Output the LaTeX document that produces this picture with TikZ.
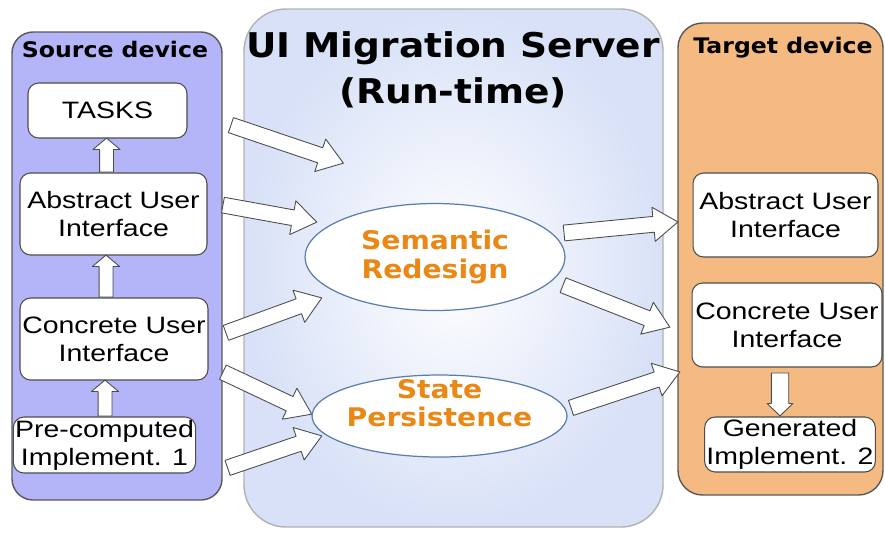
\documentclass[tikz,border=0pt]{standalone}
\usepackage{fontspec}
\setmainfont{Liberation Sans}
\newfontfamily\boxfont{Liberation Sans}[FakeStretch=1.2]
\newfontfamily\labfont{DejaVu Sans Bold}[FakeStretch=1.1]
\usepackage{tikz}
\usetikzlibrary{positioning,calc,shapes.geometric,shapes.arrows}

\definecolor{srcblue}{RGB}{180,180,248}
\definecolor{tgtorange}{RGB}{245,185,130}
\definecolor{srvblue}{RGB}{216,225,247}
\definecolor{labelorange}{RGB}{235,135,20}
\definecolor{ellblue}{RGB}{90,125,175}

% hollow block arrow from #2 to #3
\newcommand{\blockarrow}[3][]{%
  \path let \p1=(#2), \p2=(#3),
    \n1={atan2(\y2-\y1,\x2-\x1)},
    \n2={veclen(\x2-\x1,\y2-\y1)} in
    node[fatarrow, minimum height=\n2, rotate=\n1, anchor=tail, #1] at (\p1) {};}

\begin{document}
\begin{tikzpicture}[
    x=0.02cm,
    y=-0.02cm,
    line join=round
]

\tikzstyle{panel}=[
    draw=gray!70!black,
    line width=0.8pt
]
\tikzstyle{box}=[
    draw=gray!60!black,
    fill=white,
    rounded corners=6pt,
    line width=0.6pt,
    align=center,
    inner sep=1pt,
    font=\boxfont\fontsize{13.5}{16}\selectfont
]
\tikzstyle{stage}=[
    ellipse,
    draw=ellblue,
    fill=white,
    line width=0.7pt,
    inner sep=0pt
]
\tikzstyle{stagetext}=[
    align=center,
    text=labelorange,
    font=\labfont\fontsize{14.6}{16}\selectfont
]
\tikzstyle{fatarrow}=[
    single arrow,
    draw=gray!60!black,
    fill=white,
    line width=0.5pt,
    inner xsep=0pt,
    inner ysep=4.25pt,
    minimum width=0pt,
    single arrow head extend=5.25pt,
    single arrow tip angle=70
]
\tikzstyle{uparrow}=[
    inner ysep=3.7pt,
    single arrow head extend=3.8pt,
    single arrow tip angle=100
]
\tikzstyle{downarrow}=[
    inner ysep=4.7pt,
    single arrow head extend=2.4pt,
    single arrow tip angle=92
]

\useasboundingbox (0,0) rectangle (885,532);

% the three areas
\draw[panel, fill=srcblue, rounded corners=12pt] (12,32) rectangle (222,500);
\shade[inner color=white, outer color=srvblue, rounded corners=24pt] (244,9) rectangle (663,527);
\draw[panel, draw=gray!60, rounded corners=24pt] (244,9) rectangle (663,527);
\draw[panel, fill=tgtorange, rounded corners=14pt] (678,23) rectangle (883,495);

\node[font=\labfont\fontsize{12.2}{14}\selectfont] (srcLabel) at (115,50) {Source device};
\node[font=\labfont\fontsize{12.2}{14}\selectfont] (tgtLabel) at (783,48) {Target device};
\node[align=center, font=\labfont\fontsize{19.4}{26}\selectfont] (title) at (453,70) {UI Migration Server\\(Run-time)};

% source device
\node[box, minimum width=3.18cm, minimum height=1.1cm] (tasks) at (107.5,110.5) {TASKS};
\node[box, minimum width=3.74cm, minimum height=1.64cm] (absS) at (113.5,214) {Abstract User\\Interface};
\node[box, minimum width=3.76cm, minimum height=1.64cm] (conS) at (114,339) {Concrete User\\Interface};
\node[box, minimum width=3.46cm, minimum height=1.12cm] (preS) at (104.5,445) {Pre-computed\\Implement. 1};

% server
\node[stage, minimum width=5.2cm, minimum height=2.14cm] (sem) at (435,257) {};
\node[stagetext] (semText) at (sem.center) {Semantic\\Redesign};
\node[stage, minimum width=5.1cm, minimum height=1.64cm] (state) at (439.5,416) {};
\node[stagetext] (stateText) at ([shift={(0,-13)}]state.center) {State\\Persistence};
\coordinate (semFree) at ([shift={(-92,-94)}]sem.center);

% target device
\node[box, minimum width=3.7cm, minimum height=1.68cm] (absT) at (785.5,215) {Abstract User\\Interface};
\node[box, minimum width=3.8cm, minimum height=1.68cm] (conT) at (787,325) {Concrete User\\Interface};
\node[box, minimum width=3.32cm, minimum height=1.1cm] (genT) at (790,444.5) {Generated\\Implement. 2};

% arrows
\blockarrow[uparrow]{[shift={(-7,0)}]absS.north}{[shift={(-1,0)}]tasks.south}
\blockarrow[uparrow]{[shift={(-8,0)}]conS.north}{[shift={(-7.5,0)}]absS.south}
\blockarrow[uparrow]{[shift={(0.5,0)}]preS.north}{[shift={(-9,0)}]conS.south}
\blockarrow[downarrow]{[shift={(-7,5)}]conT.south}{[shift={(-10,-1)}]genT.north}

\blockarrow{[shift={(43,14.5)}]tasks.east}{semFree}
\blockarrow{[shift={(15,-9)}]absS.east}{[shift={(12,-35)}]sem.west}
\blockarrow{[shift={(17,-6)}]conS.east}{[shift={(17,41)}]sem.west}
\blockarrow{[shift={(14,33)}]conS.east}{[shift={(0,-2)}]state.west}
\blockarrow{[shift={(31,23)}]preS.east}{[shift={(10,20)}]state.west}
\blockarrow{[shift={(-2,-24)}]sem.east}{[shift={(-15,7)}]absT.west}
\blockarrow{[shift={(-3,28)}]sem.east}{[shift={(-22,2)}]conT.west}
\blockarrow{[shift={(3,-8)}]state.east}{[shift={(-12,47)}]conT.west}

\end{tikzpicture}
\end{document}
